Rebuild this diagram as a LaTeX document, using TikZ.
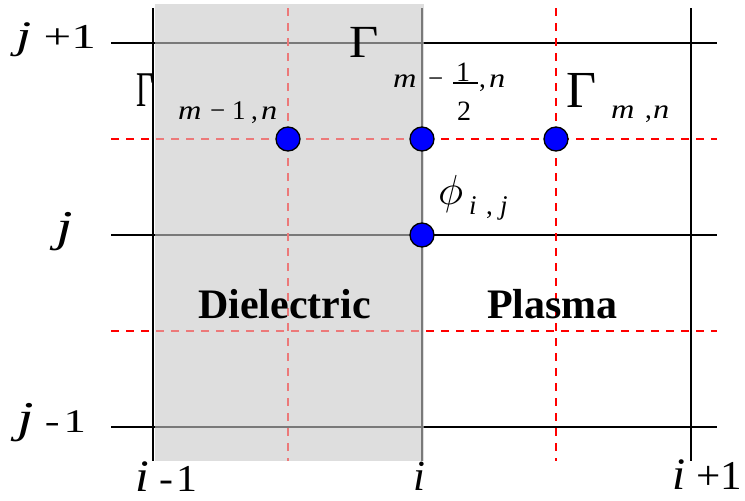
\documentclass[tikz,border=0pt]{standalone}
\usepackage{graphicx}
\usepackage{fontspec}
\setmainfont{Liberation Serif}
\newcommand{\fs}[1]{\fontsize{#1}{#1}\selectfont}
\begin{document}
\begin{tikzpicture}[x=1pt,y=-1pt,
  gridline/.style={line width=1.6pt,black},
  rdash/.style={line width=1.6pt,red,dash pattern=on 8pt off 7pt},
  dot/.style={circle,fill=blue,draw=black,line width=1.3pt,minimum size=24pt,inner sep=0pt},
  big/.style={inner sep=0pt,anchor=base west},
  sub/.style={inner sep=0pt,anchor=base west,font=\fontsize{27}{30}\selectfont},
  gam/.style={inner sep=0pt,anchor=base west,font=\fontsize{#1}{60}\selectfont},
  word/.style={inner sep=0pt,anchor=base west,font=\fontsize{42}{50}\selectfont\bfseries}]
\useasboundingbox (0,0) rectangle (745,501);
\definecolor{dielgray}{HTML}{DEDEDE}
% dielectric region
\fill[dielgray] (155,4) rectangle (424,461);
% grid
\foreach \y in {43,235,427} \draw[gridline] (111,\y) -- (717,\y);
\foreach \x in {153,422,691} \draw[gridline] (\x,8) -- (\x,461);
\foreach \y in {139,331} \draw[rdash] (111,\y) -- (717,\y);
\foreach \x in {288,556} \draw[rdash] (\x,8) -- (\x,461);
% tint lines inside region
\fill[dielgray,opacity=0.55] (155,4) rectangle (424,461);
% points
\node[dot] (p1) at (288,139) {};
\node[dot] (p2) at (422,139) {};
\node[dot] (p3) at (556,139) {};
\node[dot] (p4) at (422,235) {};
% row labels
\node[big] (jp) at (16,48) {\scalebox{1.4}[1]{\fs{39}\textit{j}\fs{35} +1}};
\node[big] (j0) at (56,241) {\scalebox{1.35}[1]{\fs{44}\textit{j}}};
\node[big] (jm) at (17,432) {\scalebox{1.35}[1]{\fs{44}\textit{j}\fs{33} -\hspace{3pt}1}};
% column labels
\node[big] (im) at (135,491) {\scalebox{1.1}[1]{\fs{45}\textit{i}\fs{38} -\hspace{3pt}1}};
\node[big] (i0) at (413,490) {\fs{43}\textit{i}};
\node[big] (ip) at (672,489) {\scalebox{1.05}[1]{\fs{45}\textit{i}\fs{41} +1}};
% flux left
\node[gam=50] (gl) at (136,106) {\scalebox{0.6}[1]{Γ}};
\node[sub] (gl1) at (178,119) {\scalebox{1.2}[1]{\textit{m}}};
\node[sub] (gl2) at (210,119) {−};
\node[sub] (gl3) at (232,119) {1};
\node[sub] (gl4) at (251,119) {,};
\node[sub] (gl5) at (261,119) {\scalebox{1.2}[1]{\textit{n}}};
% flux top
\node[gam=46] (gt) at (349,57) {\scalebox{1.1}[1]{Γ}};
\node[sub] (tm) at (393,87) {\scalebox{1.2}[1]{\textit{m}}};
\node[sub] (tminus) at (428,87) {−};
\node[inner sep=0pt,anchor=base,font=\fontsize{28}{30}\selectfont] (t1) at (463,81) {1};
\draw[line width=1.2pt] (453,83) -- (478,83);
\node[inner sep=0pt,anchor=base,font=\fontsize{28}{30}\selectfont] (t2) at (464,120) {2};
\node[sub] (tc) at (479,87) {,};
\node[sub] (tn) at (489,87) {\scalebox{1.2}[1]{\textit{n}}};
% flux right
\node[gam=52] (gr) at (566,107) {Γ};
\node[sub] (gr1) at (611,118) {\scalebox{1.2}[1]{\textit{m}}};
\node[sub] (gr2) at (645,118) {,};
\node[sub] (gr3) at (653,118) {\scalebox{1.2}[1]{\textit{n}}};
% potential
\node[inner sep=0pt,anchor=base west] (phi) at (438,204) {\scalebox{4.2}{$\phi$}};
\node[sub] (ps1) at (469,214) {\textit{i}};
\node[sub] (ps2) at (486,214) {,};
\node[sub] (ps3) at (500,214) {\textit{j}};
% regions
\node[word] (diel) at (198,318) {Dielectric};
\node[word] (plas) at (487,318) {Plasma};
\end{tikzpicture}
\end{document}
